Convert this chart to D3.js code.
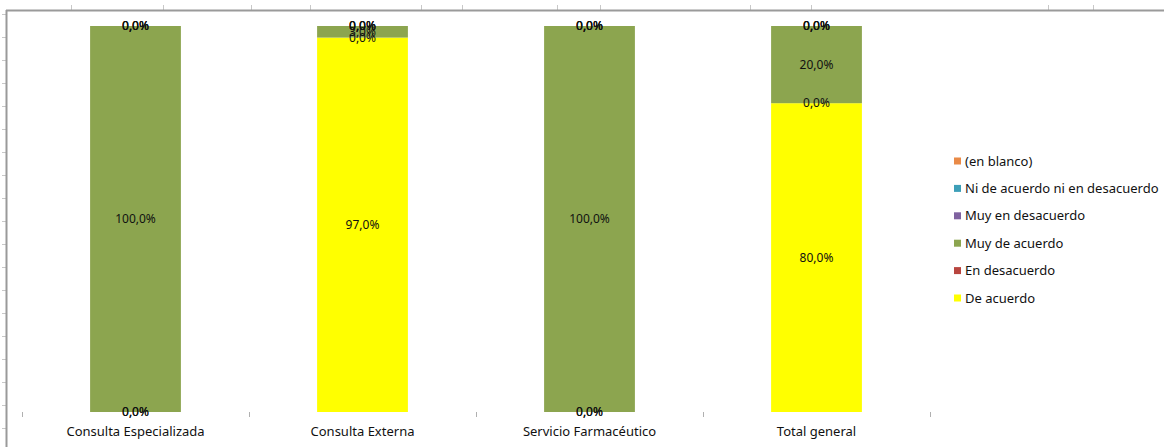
<!DOCTYPE html>
<html>
<head>
<meta charset="utf-8">
<script src="https://cdn.jsdelivr.net/npm/d3@7"></script>
<style>
  body { margin: 0; background: #fff; }
  text { font-family: "Noto Sans", sans-serif; }
</style>
</head>
<body>
<script>
// categories and series (percent of answers per service)
var categories = ["Consulta Especializada", "Consulta Externa", "Servicio Farmacéutico", "Total general"];
var seriesNames = ["De acuerdo", "En desacuerdo", "Muy de acuerdo", "Muy en desacuerdo", "Ni de acuerdo ni en desacuerdo", "(en blanco)"];
var deAcuerdo = [0, 97, 0, 80];
var enDesacuerdo = [0, 0, 0, 0];
var muyDeAcuerdo = [100, 3, 100, 20];
var muyEnDesacuerdo = [0, 0, 0, 0];
var niNi = [0, 0, 0, 0];
var enBlanco = [0, 0, 0, 0];
var seriesColors = ["#ffff00", "#b8453f", "#8ca54f", "#7f62a0", "#3d9fb8", "#e98a47"];

var width = 1164, height = 447;

var svg = d3.select("body").append("svg")
    .attr("width", width)
    .attr("height", height);

// spreadsheet frame around the chart
var frame = svg.append("g").attr("stroke", "#c8c8c8");
[71, 163, 251, 310, 421, 462, 557, 600, 750, 811, 1048, 1093].forEach(function(cx) {
  frame.append("line").attr("x1", cx + 0.5).attr("x2", cx + 0.5).attr("y1", 5).attr("y2", 10);
});
d3.range(14, 447, 23).forEach(function(ry) {
  frame.append("line").attr("x1", 2).attr("x2", 6).attr("y1", ry + 0.5).attr("y2", ry + 0.5);
});
svg.append("line").attr("x1", 6).attr("x2", width).attr("y1", 10.5).attr("y2", 10.5)
   .attr("stroke", "#9a9a9a").attr("stroke-width", 2);
svg.append("line").attr("x1", 6.5).attr("x2", 6.5).attr("y1", 10).attr("y2", height)
   .attr("stroke", "#9a9a9a").attr("stroke-width", 2);

// scales
var x = d3.scaleBand().domain(categories).range([22, 930]);
var y = d3.scaleLinear().domain([0, 100]).range([412, 26]);
var barW = x.bandwidth() * 0.4;

var rows = categories.map(function(c, i) {
  return {
    cat: c,
    "De acuerdo": deAcuerdo[i],
    "En desacuerdo": enDesacuerdo[i],
    "Muy de acuerdo": muyDeAcuerdo[i],
    "Muy en desacuerdo": muyEnDesacuerdo[i],
    "Ni de acuerdo ni en desacuerdo": niNi[i],
    "(en blanco)": enBlanco[i]
  };
});
var stacked = d3.stack().keys(seriesNames)(rows);
var color = d3.scaleOrdinal().domain(seriesNames).range(seriesColors);

// bars
var layers = svg.append("g").selectAll("g")
  .data(stacked)
  .enter().append("g")
    .attr("fill", function(d) { return color(d.key); });

layers.selectAll("rect")
  .data(function(d) { return d; })
  .enter().append("rect")
    .attr("x", function(d) { return x(d.data.cat) + (x.bandwidth() - barW) / 2; })
    .attr("width", barW)
    .attr("y", function(d) { return y(d[1]); })
    .attr("height", function(d) { return y(d[0]) - y(d[1]); });

// data labels (every segment, zeros included - they pile up like in Excel)
var labels = svg.append("g")
    .attr("font-size", 12)
    .attr("fill", "#111")
    .attr("text-anchor", "middle");
stacked.forEach(function(layer) {
  layer.forEach(function(d) {
    var v = d[1] - d[0];
    labels.append("text")
      .attr("x", x(d.data.cat) + x.bandwidth() / 2)
      .attr("y", y((d[0] + d[1]) / 2))
      .attr("dy", "0.35em")
      .text(v.toFixed(1).replace(".", ",") + "%");
  });
});

// category axis
var axis = svg.append("g")
    .attr("transform", "translate(0,412)")
    .call(d3.axisBottom(x).tickSize(0).tickPadding(15));
axis.select(".domain").remove();
axis.selectAll("text")
    .attr("font-family", "Noto Sans, sans-serif")
    .attr("font-size", 13)
    .attr("fill", "#111");

var edges = categories.map(function(c) { return x(c); }).concat([x.range()[1]]);
svg.append("g").selectAll("line")
  .data(edges)
  .enter().append("line")
    .attr("x1", function(d) { return Math.round(d) + 0.5; })
    .attr("x2", function(d) { return Math.round(d) + 0.5; })
    .attr("y1", 412)
    .attr("y2", 417)
    .attr("stroke", "#b0b0b0");

// legend (last series on top, like Excel)
var legend = svg.append("g")
    .attr("transform", "translate(954,161)");
var legendItems = legend.selectAll("g")
  .data(seriesNames.slice().reverse())
  .enter().append("g")
    .attr("transform", function(d, i) { return "translate(0," + (i * 27.4) + ")"; });
legendItems.append("rect")
    .attr("x", 0).attr("y", -3.5)
    .attr("width", 7).attr("height", 7)
    .attr("fill", function(d) { return color(d); });
legendItems.append("text")
    .attr("x", 11)
    .attr("dy", "0.35em")
    .attr("font-size", 13)
    .attr("fill", "#111")
    .text(function(d) { return d; });
</script>
</body>
</html>
